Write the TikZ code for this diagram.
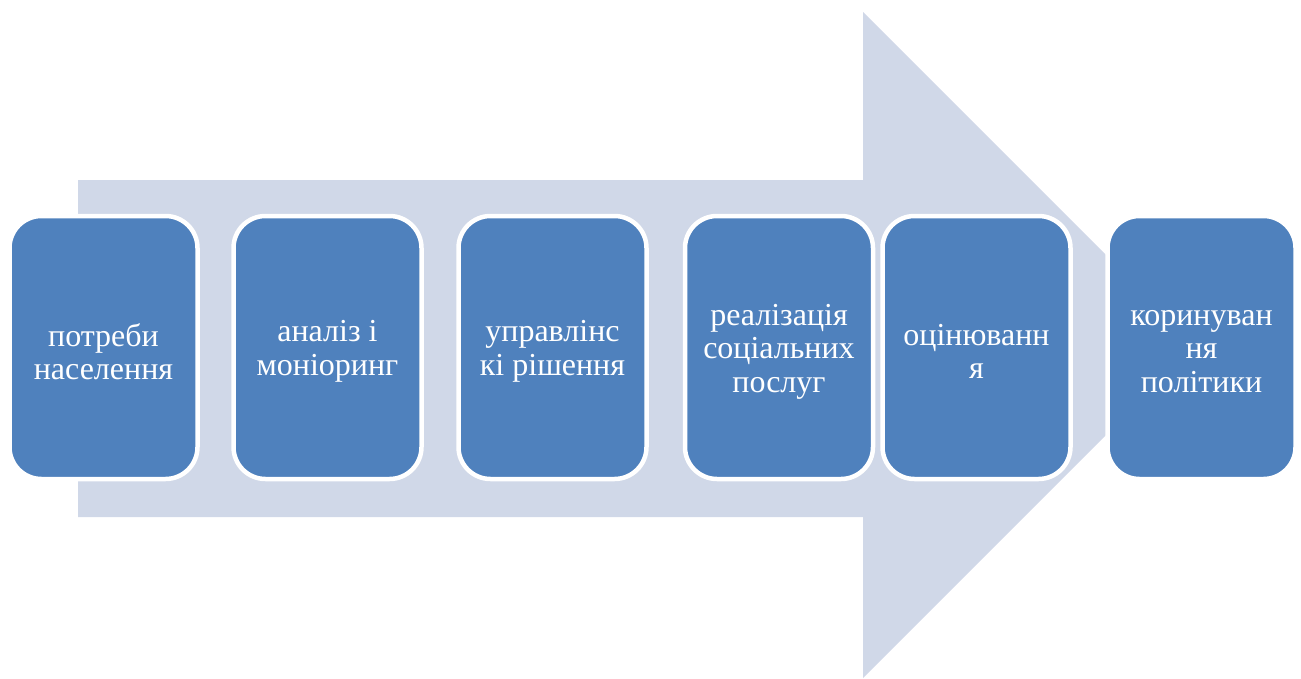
\documentclass[tikz,border=0pt]{standalone}
\usepackage{fontspec}
\setmainfont{Liberation Serif}
\begin{document}
\begin{tikzpicture}[x=1pt,y=-1pt,
  stagebox/.style={draw=white, line width=4.5pt, fill=boxblue, rounded corners=32pt,
    minimum width=188pt, minimum height=263pt, inner sep=0pt},
  stagetext/.style={align=center, text=white, inner sep=0pt,
    font=\fontsize{32}{33.5}\selectfont},
]
\definecolor{boxblue}{HTML}{4F81BD}
\definecolor{arrowgrey}{HTML}{D0D8E8}
\useasboundingbox (0,0) rectangle (1301,678);
\fill[arrowgrey] (78,180) -- (863,180) -- (863,12) -- (1196,345) -- (863,678) -- (863,517) -- (78,517) -- cycle;
\node[stagebox] (s1) at (103.5,347.5) {};
\node[stagebox] (s2) at (327.5,347.5) {};
\node[stagebox] (s3) at (552.5,347.5) {};
\node[stagebox] (s4) at (779,347.5) {};
\node[stagebox] (s5) at (976.5,347.5) {};
\node[stagebox] (s6) at (1201.5,347.5) {};
\node[stagetext] (t1) at ([yshift=-4pt]s1.center) {потреби\\населення};
\node[stagetext] (t2) at ([yshift=-4pt]s2.center) {аналіз і\\моніоринг};
\node[stagetext] (t3) at ([yshift=-4pt]s3.center) {управлінс\\кі рішення};
\node[stagetext] (t4) at ([yshift=-4pt]s4.center) {реалізація\\соціальних\\послуг};
\node[stagetext] (t5) at ([yshift=-4pt]s5.center) {оцінюванн\\я};
\node[stagetext] (t6) at ([yshift=-4pt]s6.center) {коринуван\\ня\\політики};
\end{tikzpicture}
\end{document}
